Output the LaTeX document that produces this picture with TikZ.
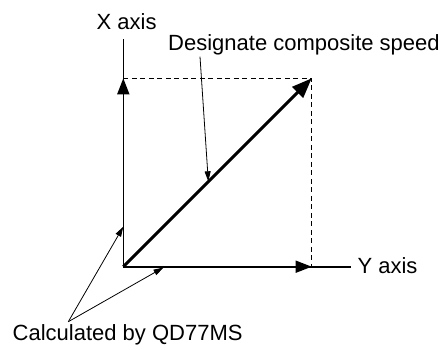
\documentclass[tikz,border=0pt]{standalone}
\usepackage{fontspec}
\setmainfont{Liberation Sans}
\usetikzlibrary{arrows.meta}
\begin{document}
\begin{tikzpicture}[x=1pt,y=-1pt,
  lbl/.style={inner sep=0pt,font=\fontsize{22}{24}\selectfont},
  axisline/.style={line width=1.6pt},
  bigtip/.style={-{Triangle[length=16pt,width=12pt]}},
  leader/.style={line width=0.8pt,-{Triangle[length=10pt,width=6pt]}},
  dashline/.style={line width=1.1pt,dash pattern=on 5pt off 3.5pt}]
\useasboundingbox (0,0) rectangle (443,349);
\coordinate (O) at (123.3,266.7);
\coordinate (Xtip) at (123.3,78.3);
\coordinate (Xend) at (123.3,39.3);
\coordinate (Ytip) at (311.7,266.7);
\coordinate (Yend) at (350.7,266.7);
\coordinate (D) at (311.7,78.3);
\coordinate (Dstart) at (200,56.7);
\coordinate (Dmid) at (208.3,181.3);
\coordinate (C) at (68.3,321.7);
\coordinate (Cx) at (123.3,226.7);
\coordinate (Cy) at (163.5,267.5);
\node[lbl,anchor=west] (xl) at (96.5,21.7) {X axis};
\node[lbl,anchor=west] (dl) at (168,45) {Designate composite speed};
\node[lbl,anchor=west] (yl) at (357.3,265.7) {Y axis};
\node[lbl,anchor=west] (cl) at (12.5,335) {Calculated by QD77MS};
% dashed rectangle sides
\draw[dashline] (Xtip) -- (D) -- (Ytip);
% axes
\draw[axisline] (O) -- (Xend);
\draw[axisline] (O) -- (Yend);
\draw[axisline,bigtip] (O) -- (Xtip);
\draw[axisline,bigtip] (O) -- (Ytip);
% composite vector
\draw[line width=3pt,-{Triangle[length=20pt,width=15pt]}] (O) -- (D);
% leaders
\draw[leader] (Dstart) -- (Dmid);
\draw[leader] (C) -- (Cx);
\draw[leader] (C) -- (Cy);
\end{tikzpicture}
\end{document}
